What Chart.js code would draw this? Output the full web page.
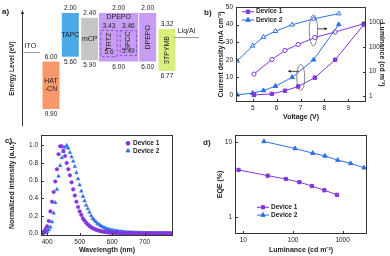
<!DOCTYPE html>
<html>
<head>
<meta charset="utf-8">
<script src="https://cdn.jsdelivr.net/npm/chart.js@4.4.1/dist/chart.umd.min.js"></script>
<style>
  body { margin: 0; background: #fff; }
  #wrap { position: relative; width: 390px; height: 256px; overflow: hidden; background: #fff; }
  canvas { position: absolute; }
</style>
</head>
<body>
<div id="wrap">
  <canvas id="chartA" width="200" height="128" style="left:0;top:0;width:200px;height:128px"></canvas>
  <canvas id="chartB" width="190" height="128" style="left:200px;top:0;width:190px;height:128px"></canvas>
  <canvas id="chartC" width="195" height="128" style="left:0;top:128px;width:195px;height:128px"></canvas>
  <canvas id="chartD" width="190" height="128" style="left:200px;top:128px;width:190px;height:128px"></canvas>
</div>
<script>
// ===== Data =====
// a) energy levels (eV)
const layerNames = ["ITO", "HAT-CN", "TAPC", "mCP", "TRTZ", "SFCC", "DPEPO", "3TPYMB", "Liq/Al"];
const lumoLevels = [null, 6.00, 2.00, 2.40, 3.43, 3.46, 2.00, 3.32, null];
const homoLevels = [null, 9.90, 5.60, 5.90, 5.6, 5.49, 6.00, 6.77, null];
const electrodeLevels = [5.2, null, null, null, null, null, null, null, 4.0];
const hostLumo = 2.00;
const hostHomo = 6.00;

// b) current density / luminance vs voltage
const voltage1 = [5.05, 5.8, 6.35, 6.9, 7.6, 8.45, 9.65];
const current1 = [0, 0.6, 2.4, 4.8, 9.8, 20, 40];
const lum1 = [8, 31, 72, 125, 240, 400, 850];
const voltage2 = [4.35, 5.0, 5.45, 5.95, 6.65, 7.55, 8.6];
const current2 = [0.1, 1.0, 2.5, 5, 10, 20, 40];
const lum2 = [27, 110, 250, 430, 780, 1350, 2200];
const voltTicks = [5, 6, 7, 8, 9];
const currentTicks = [0, 10, 20, 30, 40, 50];
const lumTicks = [1, 10, 100, 1000];

// c) EL spectra
const wavelengths = [
  380, 385, 390, 395, 400, 405, 410, 415, 420, 425,
  430, 435, 440, 445, 450, 455, 460, 465, 470, 475,
  480, 485, 490, 495, 500, 505, 510, 515, 520, 525,
  530, 535, 540, 545, 550, 555, 560, 565, 570, 575,
  580, 585, 590, 595, 600, 605, 610, 615, 620, 625,
  630, 635, 640, 645, 650, 655, 660, 665, 670, 675,
  680, 685, 690, 695, 700, 705, 710, 715, 720, 725,
  730, 735, 740, 745, 750, 755, 760, 765, 770, 775,
  780
];
const el1 = [
  0, 0.01, 0.02, 0.05, 0.08, 0.14, 0.25, 0.36, 0.47, 0.59,
  0.73, 0.90, 0.99, 0.99, 0.94, 0.88, 0.80, 0.73, 0.66, 0.58,
  0.50, 0.43, 0.36, 0.30, 0.25, 0.21, 0.17, 0.145, 0.12, 0.10,
  0.085, 0.07, 0.06, 0.05, 0.042, 0.036, 0.03, 0.025, 0.021, 0.018,
  0.015, 0.012, 0.010, 0.008, 0.007, 0.006, 0.005, 0.004, 0.004, 0.003,
  0.003, 0.002, 0.002, 0.002, 0.001, 0.001, 0.001, 0.001, 0.001, 0.001,
  0, 0, 0, 0, 0, 0, 0, 0, 0, 0,
  0, 0, 0, 0, 0, 0, 0, 0, 0, 0,
  0
];
const el2 = [
  0, 0, 0.005, 0.01, 0.02, 0.04, 0.07, 0.13, 0.23, 0.35,
  0.50, 0.65, 0.77, 0.86, 0.93, 0.98, 1.00, 0.97, 0.92, 0.87,
  0.82, 0.76, 0.69, 0.62, 0.55, 0.48, 0.42, 0.37, 0.32, 0.28,
  0.24, 0.20, 0.17, 0.15, 0.13, 0.11, 0.10, 0.085, 0.075, 0.065,
  0.057, 0.05, 0.044, 0.039, 0.035, 0.031, 0.028, 0.025, 0.022, 0.02,
  0.018, 0.016, 0.014, 0.012, 0.011, 0.01, 0.009, 0.008, 0.007, 0.006,
  0.005, 0.005, 0.004, 0.004, 0.003, 0.003, 0.003, 0.002, 0.002, 0.002,
  0.002, 0.001, 0.001, 0.001, 0.001, 0.001, 0.001, 0.001, 0.001, 0.001,
  0.001
];
const waveTicks = [400, 500, 600, 700];
const intensityTicks = [0, 0.2, 0.4, 0.6, 0.8, 1.0];

// d) EQE vs luminance
const eqeLum1 = [8, 31, 72, 135, 240, 430, 770];
const eqe1 = [4.3, 3.6, 3.25, 2.95, 2.62, 2.3, 2.0];
const eqeLum2 = [26, 110, 250, 440, 800, 1450, 2700];
const eqe2 = [10.3, 8.3, 7.2, 6.6, 5.8, 5.25, 4.6];
const eqeLumTicks = [10, 100, 1000];
const eqeTicks = [1, 10];

// ===== Styles =====
Chart.defaults.font.family = "'Liberation Sans', Arial, sans-serif";
Chart.defaults.color = "#222";
Chart.defaults.animation = false;
Chart.defaults.plugins.legend.display = false;
Chart.defaults.plugins.tooltip.enabled = false;

const FONT = "'Liberation Sans', Arial, sans-serif";
const purple = "#8236dc";
const blue = "#2f6fe6";
const layerColors = ["#999", "#f7976a", "#4fa9e6", "#c6c6c6", null, null, "#c79cf3", "#d9ef7c", "#999"];
const hostColor = "#c79cf3";
const tickFont = { size: 6.5 };
const titleFont = { size: 7, weight: "bold" };
const noGrid = { display: false, drawTicks: false };

function drawText(ctx, str, x, y, opts = {}) {
  ctx.save();
  ctx.font = `${opts.bold ? "bold " : ""}${opts.size || 6.5}px ${FONT}`;
  ctx.fillStyle = opts.color || "#222";
  ctx.textAlign = opts.align || "center";
  ctx.textBaseline = opts.baseline || "middle";
  ctx.translate(x, y);
  if (opts.rotate) ctx.rotate(opts.rotate);
  ctx.fillText(str, 0, 0);
  ctx.restore();
}

function pts(xs, ys) {
  return xs.map((x, i) => ({ x, y: ys[i] }));
}

function fixedTicks(values) {
  return s => { s.ticks = values.map(v => ({ value: v })); };
}

// box round the plot area, ticks pointing inward
const framePlugin = {
  id: "frame",
  afterDraw(chart) {
    const { ctx, chartArea: a } = chart;
    ctx.save();
    ctx.strokeStyle = "#333";
    ctx.lineWidth = 1;
    ctx.strokeRect(Math.round(a.left) + 0.5, Math.round(a.top) + 0.5,
      Math.round(a.right - a.left) - 1, Math.round(a.bottom - a.top) - 1);
    Object.values(chart.scales).forEach(s => {
      s.ticks.forEach(t => {
        const p = Math.round(s.getPixelForValue(t.value)) + 0.5;
        ctx.beginPath();
        if (s.position === "bottom") { ctx.moveTo(p, a.bottom); ctx.lineTo(p, a.bottom - 3); }
        else if (s.position === "left") { ctx.moveTo(a.left, p); ctx.lineTo(a.left + 3, p); }
        else if (s.position === "right") { ctx.moveTo(a.right, p); ctx.lineTo(a.right - 3, p); }
        ctx.stroke();
      });
    });
    ctx.restore();
  }
};

function panelLabel(label, x, y) {
  return {
    id: "panelLabel",
    afterDraw(chart) { drawText(chart.ctx, label, x, y, { size: 8, bold: true, align: "left" }); }
  };
}

// line + marker legend entries
function legendPlugin(entries, x, y, gap, withLine) {
  return {
    id: "legendBox",
    afterDraw(chart) {
      const ctx = chart.ctx;
      entries.forEach((e, i) => {
        const yy = y + i * gap;
        ctx.save();
        ctx.strokeStyle = e.color;
        ctx.fillStyle = e.color;
        ctx.lineWidth = 1;
        if (withLine) {
          ctx.beginPath(); ctx.moveTo(x, yy); ctx.lineTo(x + 12, yy); ctx.stroke();
        }
        Chart.helpers.drawPoint(ctx, { pointStyle: e.style, radius: e.radius, borderWidth: 1 }, withLine ? x + 6 : x + 2, yy);
        ctx.restore();
        drawText(ctx, e.label, withLine ? x + 14 : x + 7, yy, { size: 6.5, bold: true, align: "left" });
      });
    }
  };
}

// ===== a) Energy level diagram =====
const layerBars = layerNames.map((n, i) =>
  lumoLevels[i] != null && ![4, 5].includes(i) ? [lumoLevels[i], homoLevels[i]] : null);
const dopantBars = layerNames.map((n, i) => [4, 5].includes(i) ? [lumoLevels[i], homoLevels[i]] : null);
const hostBars = layerNames.map((n, i) => [4, 5].includes(i) ? [hostLumo, hostHomo] : null);

const energyLabels = {
  id: "energyLabels",
  afterDatasetsDraw(chart) {
    const ctx = chart.ctx;
    const xs = chart.scales.x, ys = chart.scales.y;
    const step = xs.getPixelForValue(1) - xs.getPixelForValue(0);
    const fmt = v => v.toFixed(2);

    // transport layers
    chart.getDatasetMeta(0).data.forEach((bar, i) => {
      if (!layerBars[i]) return;
      const top = ys.getPixelForValue(lumoLevels[i]);
      const bottom = ys.getPixelForValue(homoLevels[i]);
      drawText(ctx, fmt(lumoLevels[i]), bar.x, top - 1.5, { baseline: "bottom" });
      drawText(ctx, fmt(homoLevels[i]), bar.x, bottom + 2, { baseline: "top" });
      const mid = (top + bottom) / 2;
      const name = layerNames[i];
      if (name === "HAT-CN") {
        drawText(ctx, "HAT", bar.x, mid - 4, { size: 7 });
        drawText(ctx, "-CN", bar.x, mid + 4, { size: 7 });
      } else if (name === "TAPC" || name === "mCP") {
        drawText(ctx, name, bar.x, mid, { size: 7 });
      } else {
        drawText(ctx, name, bar.x, mid, { size: 7, rotate: -Math.PI / 2 });
      }
    });

    // emitting layer: DPEPO host with TRTZ / SFCC dashed boxes
    const hostX = (xs.getPixelForValue(4) + xs.getPixelForValue(5)) / 2;
    const hostTop = ys.getPixelForValue(hostLumo);
    const hostBottom = ys.getPixelForValue(hostHomo);
    drawText(ctx, fmt(hostLumo), hostX, hostTop - 1.5, { baseline: "bottom" });
    drawText(ctx, "DPEPO", hostX, hostTop + 1, { baseline: "top", size: 7 });
    drawText(ctx, fmt(hostHomo), hostX, hostBottom + 2, { baseline: "top" });

    chart.getDatasetMeta(1).data.forEach((bar, i) => {
      if (!dopantBars[i]) return;
      const top = ys.getPixelForValue(lumoLevels[i]);
      const bottom = ys.getPixelForValue(homoLevels[i]);
      const half = bar.width / 2;
      ctx.save();
      ctx.strokeStyle = "#8e4fd6";
      ctx.lineWidth = 1;
      ctx.setLineDash([3, 2]);
      ctx.strokeRect(bar.x - half, top, half * 2, bottom - top);
      ctx.restore();
      drawText(ctx, fmt(lumoLevels[i]), bar.x, top - 1, { baseline: "bottom" });
      const lbl = layerNames[i] === "TRTZ" ? "5.6" : fmt(homoLevels[i]);
      drawText(ctx, lbl, bar.x, bottom - 1, { baseline: "bottom" });
      drawText(ctx, layerNames[i], bar.x, (top + bottom) / 2 - 2, { size: 7, rotate: -Math.PI / 2 });
    });

    // electrodes
    electrodeLevels.forEach((v, i) => {
      if (v == null) return;
      const cx = xs.getPixelForValue(i);
      const y = Math.round(ys.getPixelForValue(v)) + 0.5;
      const x0 = i === 0 ? cx - 0.42 * step : cx - 0.65 * step;
      const x1 = i === 0 ? cx + 0.42 * step : cx + 0.65 * step;
      ctx.save();
      ctx.strokeStyle = "#999";
      ctx.lineWidth = 1;
      ctx.beginPath(); ctx.moveTo(x0, y); ctx.lineTo(x1, y); ctx.stroke();
      ctx.restore();
      drawText(ctx, layerNames[i], x0 + (i === 0 ? 1 : 4), y - 3, { size: 7, align: "left", baseline: "bottom" });
    });

    // small arrow head on the energy axis
    const ax = Math.round(chart.chartArea.left) + 0.5;
    const ay = chart.chartArea.top;
    ctx.save();
    ctx.fillStyle = "#333";
    ctx.beginPath(); ctx.moveTo(ax, ay - 2); ctx.lineTo(ax - 1.6, ay + 2); ctx.lineTo(ax + 1.6, ay + 2); ctx.closePath(); ctx.fill();
    ctx.restore();
  }
};

new Chart(document.getElementById("chartA"), {
  type: "bar",
  data: {
    labels: layerNames,
    datasets: [
      { data: layerBars, backgroundColor: layerColors, barPercentage: 0.88, categoryPercentage: 1, grouped: false, borderWidth: 0, borderSkipped: false, order: 1 },
      { data: dopantBars, backgroundColor: "rgba(0,0,0,0)", barPercentage: 0.84, categoryPercentage: 1, grouped: false, borderWidth: 0, borderSkipped: false, order: 0 },
      { data: hostBars, backgroundColor: hostColor, barPercentage: 1.03, categoryPercentage: 1, grouped: false, borderWidth: 0, borderSkipped: false, order: 2 }
    ]
  },
  options: {
    responsive: false,
    layout: { padding: { left: 0, right: 4, top: 12, bottom: 3 } },
    scales: {
      x: { display: false },
      y: {
        reverse: true, min: 1.92, max: 11.22,
        ticks: { display: false },
        grid: noGrid,
        border: { display: true, color: "#333", width: 1 },
        title: { display: true, text: "Energy Level (eV)", font: { size: 6.5, weight: "bold" }, padding: { top: 8, bottom: 0 } },
        afterFit: s => { s.width = 22; }
      }
    }
  },
  plugins: [energyLabels, panelLabel("a)", 2, 12)]
});

// ===== b) J-V-L =====
new Chart(document.getElementById("chartB"), {
  type: "line",
  data: {
    datasets: [
      { data: pts(voltage1, current1), yAxisID: "y", borderColor: purple, backgroundColor: purple, pointStyle: "rect", pointRadius: 2.4, borderWidth: 1 },
      { data: pts(voltage2, current2), yAxisID: "y", borderColor: blue, backgroundColor: blue, pointStyle: "triangle", pointRadius: 2.6, borderWidth: 1 },
      { data: pts(voltage1, lum1), yAxisID: "y1", borderColor: purple, backgroundColor: "#fff", pointStyle: "circle", pointRadius: 2.1, borderWidth: 1 },
      { data: pts(voltage2, lum2), yAxisID: "y1", borderColor: blue, backgroundColor: "#fff", pointStyle: "triangle", pointRadius: 2.6, borderWidth: 1 }
    ]
  },
  options: {
    responsive: false,
    layout: { padding: { left: 17, right: 4, top: 3, bottom: 7 } },
    scales: {
      x: {
        type: "linear", min: 4.3, max: 9.74,
        afterBuildTicks: fixedTicks(voltTicks),
        ticks: { font: tickFont, padding: 2, maxRotation: 0 },
        grid: noGrid, border: { display: false },
        title: { display: true, text: "Voltage (V)", font: titleFont, padding: 0 },
        afterFit: s => { s.height = 19; }
      },
      y: {
        position: "left", min: -4, max: 50,
        afterBuildTicks: fixedTicks(currentTicks),
        ticks: { font: tickFont, padding: 3 },
        grid: noGrid, border: { display: false },
        title: { display: true, text: "Current density (mA cm⁻²)", font: titleFont, padding: 0 },
        afterFit: s => { s.width = 19; }
      },
      y1: {
        type: "logarithmic", position: "right", min: 0.6, max: 4100,
        afterBuildTicks: fixedTicks(lumTicks),
        ticks: { font: tickFont, padding: 3, callback: v => String(v) },
        grid: noGrid, border: { display: false },
        title: { display: true, text: "Luminance (cd m⁻²)", font: titleFont, padding: 0 },
        afterFit: s => { s.width = 20; }
      }
    }
  },
  plugins: [
    framePlugin,
    panelLabel("b)", 4, 13),
    legendPlugin([
      { label: "Device 1", color: purple, style: "rect", radius: 2.4 },
      { label: "Device 2", color: blue, style: "triangle", radius: 2.6 }
    ], 42, 11.7, 8.3, true),
    {
      id: "callouts",
      afterDraw(chart) {
        const ctx = chart.ctx;
        const xs = chart.scales.x, yJ = chart.scales.y, yL = chart.scales.y1;
        ctx.save();
        ctx.strokeStyle = "#666";
        ctx.lineWidth = 0.8;
        // ellipse round the luminance curves, arrow to the right axis
        const ux = xs.getPixelForValue(7.54), uy = yL.getPixelForValue(465);
        ctx.beginPath(); ctx.ellipse(ux, uy, 4.2, 15.5, 0, 0, Math.PI * 2); ctx.stroke();
        // ellipse round the current curves, arrow to the left axis
        const lx = xs.getPixelForValue(7.01), ly = yJ.getPixelForValue(10);
        ctx.beginPath(); ctx.ellipse(lx, ly, 4, 13, 0, 0, Math.PI * 2); ctx.stroke();
        ctx.strokeStyle = "#222";
        ctx.fillStyle = "#222";
        ctx.beginPath(); ctx.moveTo(ux + 4, uy - 1.5); ctx.lineTo(ux + 13, uy - 1.5); ctx.stroke();
        ctx.beginPath(); ctx.moveTo(ux + 14, uy - 1.5); ctx.lineTo(ux + 11, uy - 3); ctx.lineTo(ux + 11, uy); ctx.fill();
        ctx.beginPath(); ctx.moveTo(lx - 2, ly - 6); ctx.lineTo(lx - 12, ly - 6); ctx.stroke();
        ctx.beginPath(); ctx.moveTo(lx - 13, ly - 6); ctx.lineTo(lx - 10, ly - 7.5); ctx.lineTo(lx - 10, ly - 4.5); ctx.fill();
        ctx.restore();
      }
    }
  ]
});

// ===== c) EL spectra =====
new Chart(document.getElementById("chartC"), {
  type: "scatter",
  data: {
    datasets: [
      { data: pts(wavelengths, el1), borderColor: purple, backgroundColor: purple, pointStyle: "circle", pointRadius: 1.8, borderWidth: 0.5 },
      { data: pts(wavelengths, el2), borderColor: blue, backgroundColor: blue, pointStyle: "triangle", pointRadius: 2.1, borderWidth: 0.5 }
    ]
  },
  options: {
    responsive: false,
    layout: { padding: { left: 8, right: 22, top: 5, bottom: 2 } },
    scales: {
      x: {
        type: "linear", min: 381, max: 787,
        afterBuildTicks: fixedTicks(waveTicks),
        ticks: { font: tickFont, padding: 2, maxRotation: 0 },
        grid: noGrid, border: { display: false },
        title: { display: true, text: "Wavelength (nm)", font: titleFont, padding: 0 },
        afterFit: s => { s.height = 18; }
      },
      y: {
        min: -0.03, max: 1.12,
        afterBuildTicks: fixedTicks(intensityTicks),
        ticks: { font: tickFont, padding: 3, callback: v => v.toFixed(1) },
        grid: noGrid, border: { display: false },
        title: { display: true, text: "Normalized intensity (a.u.)", font: titleFont, padding: 0 },
        afterFit: s => { s.width = 33; }
      }
    }
  },
  plugins: [
    framePlugin,
    panelLabel("c)", 5, 13),
    legendPlugin([
      { label: "Device 1", color: purple, style: "circle", radius: 1.9 },
      { label: "Device 2", color: blue, style: "triangle", radius: 2.2 }
    ], 126, 15.3, 7.5, false)
  ]
});

// ===== d) EQE vs luminance =====
new Chart(document.getElementById("chartD"), {
  type: "line",
  data: {
    datasets: [
      { data: pts(eqeLum1, eqe1), borderColor: purple, backgroundColor: purple, pointStyle: "rect", pointRadius: 2.3, borderWidth: 1 },
      { data: pts(eqeLum2, eqe2), borderColor: blue, backgroundColor: blue, pointStyle: "triangle", pointRadius: 2.5, borderWidth: 1 }
    ]
  },
  options: {
    responsive: false,
    layout: { padding: { left: 16, right: 23, top: 5, bottom: 2 } },
    scales: {
      x: {
        type: "logarithmic", min: 6.8, max: 3100,
        afterBuildTicks: fixedTicks(eqeLumTicks),
        ticks: { font: tickFont, padding: 2, maxRotation: 0, callback: v => String(v) },
        grid: noGrid, border: { display: false },
        title: { display: true, text: "Luminance (cd m⁻²)", font: titleFont, padding: 0 },
        afterFit: s => { s.height = 20; }
      },
      y: {
        type: "logarithmic", min: 0.63, max: 12.6,
        afterBuildTicks: fixedTicks(eqeTicks),
        ticks: { font: tickFont, padding: 3, callback: v => String(v) },
        grid: noGrid, border: { display: false },
        title: { display: true, text: "EQE (%)", font: titleFont, padding: 0 },
        afterFit: s => { s.width = 19; }
      }
    }
  },
  plugins: [
    framePlugin,
    panelLabel("d)", 3, 15),
    legendPlugin([
      { label: "Device 1", color: purple, style: "rect", radius: 2.3 },
      { label: "Device 2", color: blue, style: "triangle", radius: 2.5 }
    ], 57, 79.3, 7.8, true)
  ]
});
</script>
</body>
</html>
